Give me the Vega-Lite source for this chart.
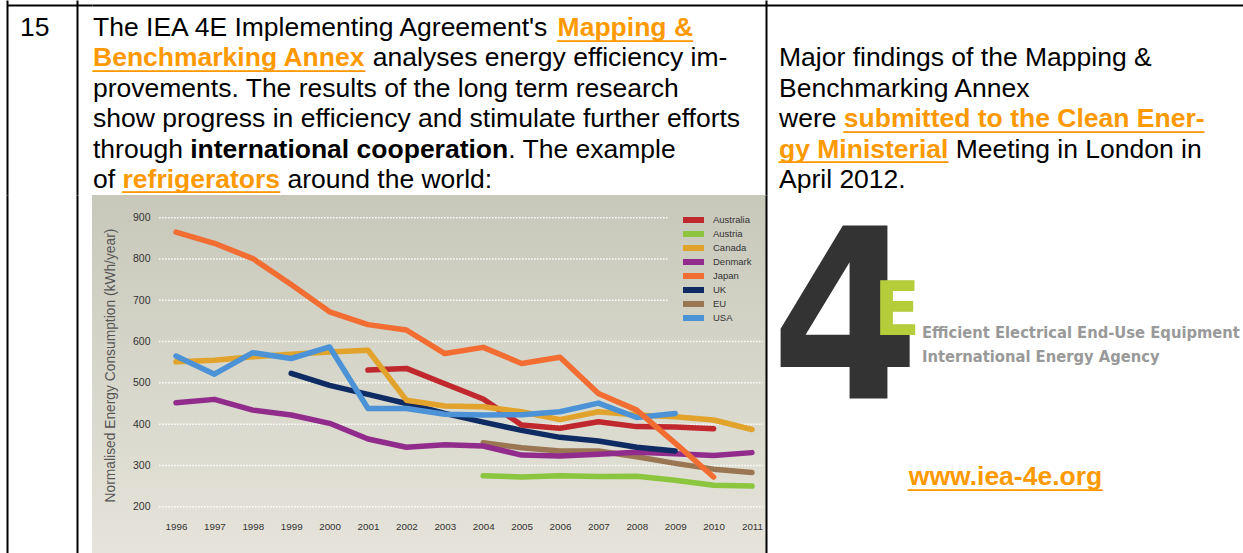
{
  "$schema": "https://vega.github.io/schema/vega-lite/v6.json",
  "background": "#ffffff",
  "padding": {"left": 7, "top": 0, "right": 0, "bottom": 0},
  "columns": 3,
  "spacing": 0,
  "bounds": "flush",
  "config": {"view": {"stroke": null}},
  "concat": [
    {
      "width": 85,
      "height": 195,
      "layer": [
        {
          "data": {"values": [{"t": "15", "line": 1}]},
          "mark": {"type": "text", "align": "left", "baseline": "alphabetic", "font": "Liberation Sans", "fontSize": 26.5, "color": "#000000", "dx": 13},
          "encoding": {
            "text": {"field": "t"},
            "x": {"datum": 0, "type": "quantitative", "scale": {"domain": [0, 1]}, "axis": {"orient": "top", "offset": -5, "domain": true, "domainColor": "#000000", "domainWidth": 2, "ticks": false, "labels": false, "grid": false, "title": null}},
            "y": {"field": "line", "type": "quantitative", "scale": {"domain": [-0.1842, 6.23], "range": [0, 195], "nice": false, "zero": false}, "axis": {"orient": "left", "domain": true, "domainColor": "#000000", "domainWidth": 2, "ticks": false, "labels": false, "grid": false, "title": null}}
          }
        },
        {
          "data": {"values": [{"line": 0}]},
          "mark": {"type": "text", "text": ""},
          "encoding": {
            "x": {"datum": 0, "type": "quantitative", "scale": {"domain": [0, 1]}, "axis": {"orient": "top", "offset": -5, "domain": true, "domainColor": "#000000", "domainWidth": 2, "ticks": false, "labels": false, "grid": false, "title": null}},
            "y": {"field": "line", "type": "quantitative", "scale": {"domain": [0, 1], "nice": false}, "axis": {"orient": "right", "offset": -15, "domain": true, "domainColor": "#000000", "domainWidth": 2, "ticks": false, "labels": false, "grid": false, "title": null}}
          }
        }
      ],
      "resolve": {"scale": {"y": "independent"}, "axis": {"y": "independent"}}
    },
    {
      "width": 674,
      "height": 195,
      "encoding": {
        "text": {"field": "t"},
        "x": {"datum": 0, "type": "quantitative", "scale": {"domain": [0, 1]}, "axis": {"orient": "top", "offset": -5, "domain": true, "domainColor": "#000000", "domainWidth": 2, "ticks": false, "labels": false, "grid": false, "title": null}},
        "y": {"field": "line", "type": "quantitative", "scale": {"domain": [-0.1842, 6.23], "range": [0, 195], "nice": false, "zero": false}, "axis": null}
      },
      "layer": [
        {
          "data": {"values": [
            {"t": "The IEA 4E Implementing Agreement's", "line": 1},
            {"t": "provements. The results of the long term research", "line": 3},
            {"t": "show progress in efficiency and stimulate further efforts", "line": 4},
            {"t": "through", "line": 5},
            {"t": "of", "line": 6}
          ]},
          "mark": {"type": "text", "align": "left", "baseline": "alphabetic", "font": "Liberation Sans", "fontSize": 26.5, "color": "#000000", "dx": 1}
        },
        {
          "data": {"values": [{"t": "analyses energy efficiency im-", "line": 2}]},
          "mark": {"type": "text", "align": "left", "baseline": "alphabetic", "font": "Liberation Sans", "fontSize": 26.5, "color": "#000000", "dx": 280.8}
        },
        {
          "data": {"values": [{"t": ". The example", "line": 5}]},
          "mark": {"type": "text", "align": "left", "baseline": "alphabetic", "font": "Liberation Sans", "fontSize": 26.5, "color": "#000000", "dx": 416.3}
        },
        {
          "data": {"values": [{"t": "around the world:", "line": 6}]},
          "mark": {"type": "text", "align": "left", "baseline": "alphabetic", "font": "Liberation Sans", "fontSize": 26.5, "color": "#000000", "dx": 195.4}
        },
        {
          "data": {"values": [{"t": "international cooperation", "line": 5}]},
          "mark": {"type": "text", "align": "left", "baseline": "alphabetic", "font": "Liberation Sans", "fontSize": 26.5, "fontWeight": "bold", "color": "#000000", "dx": 98.2}
        },
        {
          "data": {"values": [{"t": "Mapping &", "line": 1}]},
          "mark": {"type": "text", "align": "left", "baseline": "alphabetic", "font": "Liberation Sans", "fontSize": 26.5, "fontWeight": "bold", "color": "#ff9900", "dx": 465.6}
        },
        {
          "data": {"values": [{"t": "_________", "line": 1}]},
          "mark": {"type": "text", "align": "left", "baseline": "alphabetic", "font": "Liberation Sans", "fontSize": 27.06, "color": "#ff9900", "dx": 465.6}
        },
        {
          "data": {"values": [{"t": "Benchmarking Annex", "line": 2}]},
          "mark": {"type": "text", "align": "left", "baseline": "alphabetic", "font": "Liberation Sans", "fontSize": 26.5, "fontWeight": "bold", "color": "#ff9900", "dx": 1}
        },
        {
          "data": {"values": [{"t": "__________________", "line": 2}]},
          "mark": {"type": "text", "align": "left", "baseline": "alphabetic", "font": "Liberation Sans", "fontSize": 27.2, "color": "#ff9900", "dx": 1}
        },
        {
          "data": {"values": [{"t": "refrigerators", "line": 6}]},
          "mark": {"type": "text", "align": "left", "baseline": "alphabetic", "font": "Liberation Sans", "fontSize": 26.5, "fontWeight": "bold", "color": "#ff9900", "dx": 30.5}
        },
        {
          "data": {"values": [{"t": "___________", "line": 6}]},
          "mark": {"type": "text", "align": "left", "baseline": "alphabetic", "font": "Liberation Sans", "fontSize": 25.77, "color": "#ff9900", "dx": 30.5}
        }
      ]
    },
    {
      "width": 477,
      "height": 195,
      "encoding": {
        "text": {"field": "t"},
        "x": {"datum": 0, "type": "quantitative", "scale": {"domain": [0, 1]}, "axis": {"orient": "top", "offset": -5, "domain": true, "domainColor": "#000000", "domainWidth": 2, "ticks": false, "labels": false, "grid": false, "title": null}},
        "y": {"field": "line", "type": "quantitative", "scale": {"domain": [-0.1842, 6.23], "range": [0, 195], "nice": false, "zero": false}, "axis": {"orient": "left", "domain": true, "domainColor": "#000000", "domainWidth": 2, "ticks": false, "labels": false, "grid": false, "title": null}}
      },
      "layer": [
        {
          "data": {"values": [
            {"t": "Major findings of the Mapping &", "line": 2},
            {"t": "Benchmarking Annex", "line": 3},
            {"t": "were", "line": 4},
            {"t": "April 2012.", "line": 6}
          ]},
          "mark": {"type": "text", "align": "left", "baseline": "alphabetic", "font": "Liberation Sans", "fontSize": 26.5, "color": "#000000", "dx": 13}
        },
        {
          "data": {"values": [{"t": "Meeting in London in", "line": 5}]},
          "mark": {"type": "text", "align": "left", "baseline": "alphabetic", "font": "Liberation Sans", "fontSize": 26.5, "color": "#000000", "dx": 189.7}
        },
        {
          "data": {"values": [{"t": "submitted to the Clean Ener-", "line": 4}]},
          "mark": {"type": "text", "align": "left", "baseline": "alphabetic", "font": "Liberation Sans", "fontSize": 26.5, "fontWeight": "bold", "color": "#ff9900", "dx": 77.8}
        },
        {
          "data": {"values": [{"t": "________________________", "line": 4}]},
          "mark": {"type": "text", "align": "left", "baseline": "alphabetic", "font": "Liberation Sans", "fontSize": 27.03, "color": "#ff9900", "dx": 77.8}
        },
        {
          "data": {"values": [{"t": "gy Ministerial", "line": 5}]},
          "mark": {"type": "text", "align": "left", "baseline": "alphabetic", "font": "Liberation Sans", "fontSize": 26.5, "fontWeight": "bold", "color": "#ff9900", "dx": 13}
        },
        {
          "data": {"values": [{"t": "____________", "line": 5}]},
          "mark": {"type": "text", "align": "left", "baseline": "alphabetic", "font": "Liberation Sans", "fontSize": 25.4, "color": "#ff9900", "dx": 13}
        }
      ]
    },
    {
      "width": 85,
      "height": 358,
      "layer": [
        {
          "data": {"values": [{"k": 0}]},
          "mark": {"type": "text", "text": ""},
          "encoding": {
            "x": {"datum": 0, "type": "quantitative", "scale": {"domain": [0, 1]}, "axis": null},
            "y": {"datum": 0, "type": "quantitative", "scale": {"domain": [0, 1]}, "axis": {"orient": "left", "domain": true, "domainColor": "#000000", "domainWidth": 2, "ticks": false, "labels": false, "grid": false, "title": null}}
          }
        },
        {
          "data": {"values": [{"k": 0}]},
          "mark": {"type": "text", "text": ""},
          "encoding": {
            "x": {"datum": 0, "type": "quantitative", "scale": {"domain": [0, 1]}, "axis": null},
            "y": {"datum": 0, "type": "quantitative", "scale": {"domain": [0, 1]}, "axis": {"orient": "right", "offset": -15, "domain": true, "domainColor": "#000000", "domainWidth": 2, "ticks": false, "labels": false, "grid": false, "title": null}}
          }
        }
      ],
      "resolve": {"scale": {"y": "independent"}, "axis": {"y": "independent"}}
    },
    {
      "width": 674,
      "height": 358,
      "view": {"stroke": null, "fill": {"gradient": "linear", "x1": 0, "y1": 0, "x2": 0, "y2": 1, "stops": [{"offset": 0, "color": "#c7c8ba"}, {"offset": 1, "color": "#e6e4da"}]}},
      "encoding": {
        "y": {"field": "value", "type": "quantitative", "scale": {"domain": [87.9, 955], "nice": false, "zero": false},
          "axis": {"orient": "left", "offset": -60, "values": [200, 300, 400, 500, 600, 700, 800, 900], "domain": false, "ticks": false, "tickSize": 0, "grid": false, "labelPadding": 2, "labelFont": "Liberation Sans", "labelFontSize": 10.5, "labelColor": "#333333", "labelFlush": false, "labelOverlap": false,
            "title": "Normalised Energy Consumption (kWh/year)", "titleFont": "Liberation Sans", "titleFontSize": 13.8, "titleFontWeight": "normal", "titleColor": "#555555", "titleAngle": 270, "titleX": -37.3, "titleY": 170, "titleAlign": "center", "titleBaseline": "alphabetic"}}
      },
      "layer": [
        {
          "data": {"values": [{"value": 200}, {"value": 300}, {"value": 400}, {"value": 500}, {"value": 600}]},
          "mark": {"type": "rule", "color": "#ffffff", "strokeWidth": 1.5, "strokeDash": [1.5, 1.5]},
          "encoding": {
            "x": {"datum": 1995.56, "type": "quantitative", "scale": {"domain": [1993.8125, 2011.365], "nice": false, "zero": false},
              "axis": {"orient": "bottom", "offset": -24, "values": [1996, 1997, 1998, 1999, 2000, 2001, 2002, 2003, 2004, 2005, 2006, 2007, 2008, 2009, 2010, 2011], "format": "d", "domain": false, "ticks": false, "tickSize": 0, "grid": false, "labelPadding": 0, "labelBaseline": "alphabetic", "labelFont": "Liberation Sans", "labelFontSize": 9.8, "labelColor": "#333333", "labelFlush": false, "labelOverlap": false, "title": null}},
            "x2": {"datum": 2011.28}
          }
        },
        {
          "data": {"values": [{"value": 700}, {"value": 800}, {"value": 900}]},
          "mark": {"type": "rule", "color": "#ffffff", "strokeWidth": 1.5, "strokeDash": [1.5, 1.5]},
          "encoding": {
            "x": {"datum": 1995.56, "type": "quantitative", "scale": {"domain": [1993.8125, 2011.365], "nice": false, "zero": false},
              "axis": {"orient": "bottom", "offset": -24, "values": [1996, 1997, 1998, 1999, 2000, 2001, 2002, 2003, 2004, 2005, 2006, 2007, 2008, 2009, 2010, 2011], "format": "d", "domain": false, "ticks": false, "tickSize": 0, "grid": false, "labelPadding": 0, "labelBaseline": "alphabetic", "labelFont": "Liberation Sans", "labelFontSize": 9.8, "labelColor": "#333333", "labelFlush": false, "labelOverlap": false, "title": null}},
            "x2": {"datum": 2008.8}
          }
        },
        {
          "data": {"values": [
            {"country": "Austria", "year": 2004, "value": 275}, {"country": "Austria", "year": 2005, "value": 272}, {"country": "Austria", "year": 2006, "value": 275}, {"country": "Austria", "year": 2007, "value": 273}, {"country": "Austria", "year": 2008, "value": 274}, {"country": "Austria", "year": 2009, "value": 264}, {"country": "Austria", "year": 2010, "value": 252}, {"country": "Austria", "year": 2011, "value": 250},
            {"country": "EU", "year": 2004, "value": 355}, {"country": "EU", "year": 2005, "value": 343}, {"country": "EU", "year": 2006, "value": 335}, {"country": "EU", "year": 2007, "value": 335}, {"country": "EU", "year": 2008, "value": 321}, {"country": "EU", "year": 2009, "value": 305}, {"country": "EU", "year": 2010, "value": 291}, {"country": "EU", "year": 2011, "value": 283},
            {"country": "Denmark", "year": 1996, "value": 452}, {"country": "Denmark", "year": 1997, "value": 460}, {"country": "Denmark", "year": 1998, "value": 434}, {"country": "Denmark", "year": 1999, "value": 422}, {"country": "Denmark", "year": 2000, "value": 402}, {"country": "Denmark", "year": 2001, "value": 364}, {"country": "Denmark", "year": 2002, "value": 344}, {"country": "Denmark", "year": 2003, "value": 350}, {"country": "Denmark", "year": 2004, "value": 347}, {"country": "Denmark", "year": 2005, "value": 325}, {"country": "Denmark", "year": 2006, "value": 323}, {"country": "Denmark", "year": 2007, "value": 327}, {"country": "Denmark", "year": 2008, "value": 332}, {"country": "Denmark", "year": 2009, "value": 328}, {"country": "Denmark", "year": 2010, "value": 324}, {"country": "Denmark", "year": 2011, "value": 331},
            {"country": "UK", "year": 1999, "value": 523}, {"country": "UK", "year": 2000, "value": 494}, {"country": "UK", "year": 2001, "value": 472}, {"country": "UK", "year": 2002, "value": 450}, {"country": "UK", "year": 2003, "value": 426}, {"country": "UK", "year": 2004, "value": 405}, {"country": "UK", "year": 2005, "value": 385}, {"country": "UK", "year": 2006, "value": 368}, {"country": "UK", "year": 2007, "value": 359}, {"country": "UK", "year": 2008, "value": 344}, {"country": "UK", "year": 2009, "value": 335},
            {"country": "Australia", "year": 2001, "value": 531}, {"country": "Australia", "year": 2002, "value": 535}, {"country": "Australia", "year": 2003, "value": 498}, {"country": "Australia", "year": 2004, "value": 461}, {"country": "Australia", "year": 2005, "value": 398}, {"country": "Australia", "year": 2006, "value": 390}, {"country": "Australia", "year": 2007, "value": 406}, {"country": "Australia", "year": 2008, "value": 394}, {"country": "Australia", "year": 2009, "value": 393}, {"country": "Australia", "year": 2010, "value": 389},
            {"country": "Canada", "year": 1996, "value": 551}, {"country": "Canada", "year": 1997, "value": 555}, {"country": "Canada", "year": 1998, "value": 563}, {"country": "Canada", "year": 1999, "value": 569}, {"country": "Canada", "year": 2000, "value": 575}, {"country": "Canada", "year": 2001, "value": 579}, {"country": "Canada", "year": 2002, "value": 458}, {"country": "Canada", "year": 2003, "value": 444}, {"country": "Canada", "year": 2004, "value": 442}, {"country": "Canada", "year": 2005, "value": 430}, {"country": "Canada", "year": 2006, "value": 411}, {"country": "Canada", "year": 2007, "value": 430}, {"country": "Canada", "year": 2008, "value": 422}, {"country": "Canada", "year": 2009, "value": 418}, {"country": "Canada", "year": 2010, "value": 410}, {"country": "Canada", "year": 2011, "value": 387},
            {"country": "USA", "year": 1996, "value": 565}, {"country": "USA", "year": 1997, "value": 521}, {"country": "USA", "year": 1998, "value": 573}, {"country": "USA", "year": 1999, "value": 559}, {"country": "USA", "year": 2000, "value": 587}, {"country": "USA", "year": 2001, "value": 438}, {"country": "USA", "year": 2002, "value": 438}, {"country": "USA", "year": 2003, "value": 424}, {"country": "USA", "year": 2004, "value": 422}, {"country": "USA", "year": 2005, "value": 423}, {"country": "USA", "year": 2006, "value": 430}, {"country": "USA", "year": 2007, "value": 451}, {"country": "USA", "year": 2008, "value": 416}, {"country": "USA", "year": 2009, "value": 426},
            {"country": "Japan", "year": 1996, "value": 865}, {"country": "Japan", "year": 1997, "value": 838}, {"country": "Japan", "year": 1998, "value": 801}, {"country": "Japan", "year": 1999, "value": 738}, {"country": "Japan", "year": 2000, "value": 672}, {"country": "Japan", "year": 2001, "value": 641}, {"country": "Japan", "year": 2002, "value": 628}, {"country": "Japan", "year": 2003, "value": 571}, {"country": "Japan", "year": 2004, "value": 586}, {"country": "Japan", "year": 2005, "value": 547}, {"country": "Japan", "year": 2006, "value": 562}, {"country": "Japan", "year": 2007, "value": 474}, {"country": "Japan", "year": 2008, "value": 434}, {"country": "Japan", "year": 2009, "value": 354}, {"country": "Japan", "year": 2010, "value": 272}
          ]},
          "mark": {"type": "line", "strokeWidth": 5.5, "strokeCap": "round", "strokeJoin": "round"},
          "encoding": {
            "x": {"field": "year", "type": "quantitative", "scale": {"domain": [1993.8125, 2011.365], "nice": false, "zero": false},
              "axis": {"orient": "bottom", "offset": -24, "values": [1996, 1997, 1998, 1999, 2000, 2001, 2002, 2003, 2004, 2005, 2006, 2007, 2008, 2009, 2010, 2011], "format": "d", "domain": false, "ticks": false, "tickSize": 0, "grid": false, "labelPadding": 0, "labelBaseline": "alphabetic", "labelFont": "Liberation Sans", "labelFontSize": 9.8, "labelColor": "#333333", "labelFlush": false, "labelOverlap": false, "title": null}},
            "color": {"field": "country", "type": "nominal",
              "scale": {"domain": ["Australia", "Austria", "Canada", "Denmark", "Japan", "UK", "EU", "USA"], "range": ["#c0282e", "#8cc63e", "#e1a32b", "#912c8c", "#f26d32", "#0e2c63", "#9a7752", "#4b93d6"]},
              "legend": {"orient": "none", "legendX": 676, "legendY": 213.5, "title": null, "symbolType": "M-2.6,0H2.6", "symbolSize": 100, "symbolStrokeWidth": 6, "clipHeight": 13.2, "labelFont": "Liberation Sans", "labelFontSize": 9.5, "labelColor": "#333333", "labelOffset": 14, "rowPadding": 0, "padding": 0}}
          }
        }
      ]
    },
    {
      "width": 477,
      "height": 358,
      "encoding": {
        "text": {"field": "t"},
        "x": {"datum": 0, "type": "quantitative", "scale": {"domain": [0, 1]}, "axis": null}
      },
      "layer": [
        {
          "data": {"values": [{"t": "4"}]},
          "mark": {"type": "text", "align": "left", "baseline": "alphabetic", "font": "Liberation Sans Narrow, DejaVu Sans Condensed, sans-serif", "fontSize": 237, "fontWeight": "bold", "color": "#333333", "dx": 5},
          "encoding": {
            "y": {"datum": 12.94, "type": "quantitative", "scale": {"domain": [6.2303, 18.007], "range": [0, 358], "nice": false, "zero": false}, "axis": {"orient": "left", "domain": true, "domainColor": "#000000", "domainWidth": 2, "ticks": false, "labels": false, "grid": false, "title": null}}
          }
        },
        {
          "data": {"values": [{"t": "E"}]},
          "mark": {"type": "text", "align": "left", "baseline": "alphabetic", "font": "Liberation Sans Narrow, DejaVu Sans Condensed, sans-serif", "fontSize": 75, "fontWeight": "bold", "color": "#b5cd3b", "dx": 108},
          "encoding": {
            "y": {"datum": 10.84, "type": "quantitative", "scale": {"domain": [6.2303, 18.007], "range": [0, 358], "nice": false, "zero": false}, "axis": {"orient": "left", "domain": true, "domainColor": "#000000", "domainWidth": 2, "ticks": false, "labels": false, "grid": false, "title": null}}
          }
        },
        {
          "data": {"values": [{"t": "Efficient Electrical End-Use Equipment"}]},
          "mark": {"type": "text", "align": "left", "baseline": "alphabetic", "font": "Liberation Sans Narrow, DejaVu Sans Condensed, sans-serif", "fontSize": 16.4, "fontWeight": "bold", "color": "#999999", "dx": 156},
          "encoding": {
            "y": {"datum": 10.94, "type": "quantitative", "scale": {"domain": [6.2303, 18.007], "range": [0, 358], "nice": false, "zero": false}, "axis": {"orient": "left", "domain": true, "domainColor": "#000000", "domainWidth": 2, "ticks": false, "labels": false, "grid": false, "title": null}}
          }
        },
        {
          "data": {"values": [{"t": "International Energy Agency"}]},
          "mark": {"type": "text", "align": "left", "baseline": "alphabetic", "font": "Liberation Sans Narrow, DejaVu Sans Condensed, sans-serif", "fontSize": 16.4, "fontWeight": "bold", "color": "#999999", "dx": 156},
          "encoding": {
            "y": {"datum": 11.72, "type": "quantitative", "scale": {"domain": [6.2303, 18.007], "range": [0, 358], "nice": false, "zero": false}, "axis": {"orient": "left", "domain": true, "domainColor": "#000000", "domainWidth": 2, "ticks": false, "labels": false, "grid": false, "title": null}}
          }
        },
        {
          "data": {"values": [{"t": "www.iea-4e.org"}]},
          "mark": {"type": "text", "align": "center", "baseline": "alphabetic", "font": "Liberation Sans", "fontSize": 26.5, "fontWeight": "bold", "color": "#ff9900", "dx": 1},
          "encoding": {
            "x": {"datum": 0.5, "type": "quantitative", "scale": {"domain": [0, 1]}, "axis": null},
            "y": {"datum": 15.77, "type": "quantitative", "scale": {"domain": [6.2303, 18.007], "range": [0, 358], "nice": false, "zero": false}, "axis": {"orient": "left", "domain": true, "domainColor": "#000000", "domainWidth": 2, "ticks": false, "labels": false, "grid": false, "title": null}}
          }
        },
        {
          "data": {"values": [{"t": "_____________"}]},
          "mark": {"type": "text", "align": "center", "baseline": "alphabetic", "font": "Liberation Sans", "fontSize": 26.9, "color": "#ff9900", "dx": 1},
          "encoding": {
            "x": {"datum": 0.5, "type": "quantitative", "scale": {"domain": [0, 1]}, "axis": null},
            "y": {"datum": 15.77, "type": "quantitative", "scale": {"domain": [6.2303, 18.007], "range": [0, 358], "nice": false, "zero": false}, "axis": {"orient": "left", "domain": true, "domainColor": "#000000", "domainWidth": 2, "ticks": false, "labels": false, "grid": false, "title": null}}
          }
        }
      ]
    }
  ]
}
